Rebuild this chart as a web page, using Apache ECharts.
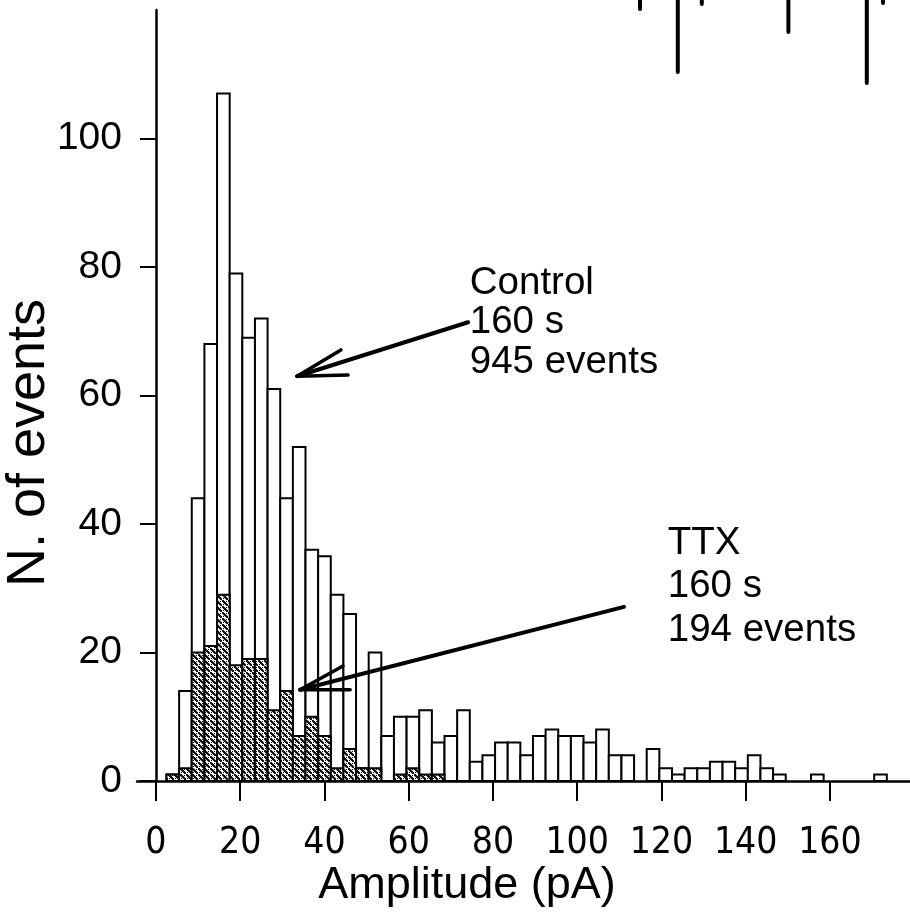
<!DOCTYPE html>
<html>
<head>
<meta charset="utf-8">
<script src="https://cdn.jsdelivr.net/npm/echarts@6/dist/echarts.min.js"></script>
<style>
  html, body { margin: 0; padding: 0; background: #fff; }
  #chart { width: 910px; height: 919px; }
</style>
</head>
<body>
<div id="chart"></div>
<script>
// Amplitude histogram of miniature events: bins are 3 pA wide, centred at these amplitudes (pA)
const binCenters = [4, 7, 10, 13, 16, 19, 22, 25, 28, 31, 34, 37, 40, 43, 46, 49, 52, 55, 58, 61,
  64, 67, 70, 73, 76, 79, 82, 85, 88, 91, 94, 97, 100, 103, 106, 109, 112, 115, 118, 121,
  124, 127, 130, 133, 136, 139, 142, 145, 148, 151, 154, 157, 160, 163, 166, 169, 172];

// Control recording, 160 s
const controlCounts = [1, 14, 44, 68, 107, 79, 69, 72, 61, 44, 52, 36, 35, 29, 26, 2, 20, 7, 10, 10,
  11, 6, 7, 11, 3, 4, 6, 6, 4, 7, 8, 7, 7, 6, 8, 4, 4, 0, 5, 2,
  1, 2, 2, 3, 3, 2, 4, 2, 1, 0, 0, 1, 0, 0, 0, 0, 1];

// In TTX, 160 s
const ttxCounts = [1, 2, 20, 21, 29, 18, 19, 19, 11, 14, 7, 10, 7, 2, 5, 2, 2, 0, 1, 2,
  1, 1, 0, 0, 0, 0, 0, 0, 0, 0, 0, 0, 0, 0, 0, 0, 0, 0, 0, 0,
  0, 0, 0, 0, 0, 0, 0, 0, 0, 0, 0, 0, 0, 0, 0, 0, 0];

const xTicks = [0, 20, 40, 60, 80, 100, 120, 140, 160];
const yTicks = [0, 20, 40, 60, 80, 100];

// Fragment of the current trace above the histogram: time (ms), peak (pA)
const traceTimes = [20, 38.9, 50.9, 94.2, 133.4, 141.5];
const tracePeaks = [-4.5, -36, -2, -16, -41.5, -1.5];

const BIN_WIDTH = 3;
const FONT = '"Liberation Sans", Arial, Helvetica, sans-serif';
const NARROW = '"Liberation Sans Narrow", "DejaVu Sans Condensed", "Liberation Sans", sans-serif';

// dense dotted diagonal hatch used for the TTX bars
function makeHatch() {
  const s = 6;
  const c = document.createElement('canvas');
  c.width = s; c.height = s;
  const g = c.getContext('2d');
  g.fillStyle = '#fff';
  g.fillRect(0, 0, s, s);
  g.strokeStyle = '#000';
  g.lineWidth = 2;
  g.beginPath();
  g.moveTo(-1, -1); g.lineTo(s + 1, s + 1);
  g.moveTo(-4, s - 2); g.lineTo(2, s + 4);
  g.moveTo(s - 2, -4); g.lineTo(s + 4, 2);
  g.stroke();
  g.fillStyle = '#000';
  g.fillRect(4, 1, 1, 1);
  g.fillRect(1, 4, 1, 1);
  return c;
}
const hatch = { image: makeHatch(), repeat: 'repeat' };

function histRect(fill) {
  return function (params, api) {
    const v = api.value(1);
    if (!v) return null;
    const c = api.value(0);
    const a = api.coord([c - BIN_WIDTH / 2, 0]);
    const b = api.coord([c + BIN_WIDTH / 2, v]);
    return {
      type: 'rect',
      shape: { x: a[0], y: b[1], width: b[0] - a[0], height: a[1] - b[1] },
      style: { fill: fill, stroke: '#000', lineWidth: 2 }
    };
  };
}

const chart = echarts.init(document.getElementById('chart'), null, { renderer: 'canvas' });

chart.setOption({
  backgroundColor: '#fff',
  animation: false,
  grid: [
    { left: 137, right: 0, top: 10, bottom: 138, containLabel: false, outerBoundsMode: 'none' },
    { left: 600, top: 0, width: 310, height: 100, containLabel: false, outerBoundsMode: 'none' }
  ],
  xAxis: [
    {
      type: 'value', gridIndex: 0, min: -4.5, max: 179,
      splitLine: { show: false },
      axisLine: { onZero: false, lineStyle: { color: '#000', width: 2.5 } },
      axisTick: { show: true, length: 20, customValues: xTicks, lineStyle: { color: '#000', width: 2 } },
      axisLabel: { customValues: xTicks, margin: 44, color: '#000', fontSize: 37, fontFamily: NARROW }
    },
    { type: 'value', gridIndex: 1, min: 0, max: 155, show: false }
  ],
  yAxis: [
    {
      type: 'value', gridIndex: 0, min: 0, max: 120,
      splitLine: { show: false },
      axisLine: { onZero: true, lineStyle: { color: '#000', width: 2.5 } },
      axisTick: { show: true, length: 16, customValues: yTicks, lineStyle: { color: '#000', width: 2 } },
      axisLabel: { customValues: yTicks, margin: 15, color: '#000', fontSize: 39, fontFamily: FONT }
    },
    { type: 'value', gridIndex: 1, min: -50, max: 0, show: false }
  ],
  series: [
    {
      name: 'Control', type: 'custom', xAxisIndex: 0, yAxisIndex: 0,
      renderItem: histRect('#fff'),
      data: binCenters.map((c, i) => [c, controlCounts[i]]),
      z: 2
    },
    {
      name: 'TTX', type: 'custom', xAxisIndex: 0, yAxisIndex: 0,
      renderItem: histRect(hatch),
      data: binCenters.map((c, i) => [c, ttxCounts[i]]),
      z: 3
    },
    {
      name: 'trace', type: 'custom', xAxisIndex: 1, yAxisIndex: 1,
      renderItem: function (params, api) {
        const t = api.value(0);
        const top = api.coord([t, 0]);
        const bottom = api.coord([t, api.value(1)]);
        return {
          type: 'line',
          shape: { x1: top[0], y1: top[1], x2: bottom[0], y2: bottom[1] },
          style: { stroke: '#000', lineWidth: 4, lineCap: 'round' }
        };
      },
      data: traceTimes.map((t, i) => [t, tracePeaks[i]])
    }
  ]
});

// Annotations, anchored in histogram units (pA, events)
const controlArrow = { tail: [74.1, 71.4], tip: [33.5, 63.0], barbs: [[43.9, 67.1], [45.6, 63.2]] };
const ttxArrow = { tail: [111.1, 27.1], tip: [34.2, 14.2], barbs: [[44.4, 17.9], [46.1, 14.2]] };
const controlNote = { at: [74.5, 80.6], text: 'Control\n160 s\n945 events', lineHeight: 39.5 };
const ttxNote = { at: [121.5, 40.4], text: 'TTX\n160 s\n194 events', lineHeight: 43.5 };

const toPx = p => chart.convertToPixel({ gridIndex: 0 }, p);

function arrowShapes(a) {
  const tip = toPx(a.tip);
  const out = [];
  const seg = (p, w) => {
    const q = toPx(p);
    out.push({
      type: 'line',
      shape: { x1: q[0], y1: q[1], x2: tip[0], y2: tip[1] },
      style: { stroke: '#000', lineWidth: w, lineCap: 'round' },
      z: 10
    });
  };
  seg(a.tail, 4);
  a.barbs.forEach(b => seg(b, 3.5));
  return out;
}

function note(n) {
  const p = toPx(n.at);
  return {
    type: 'text', x: p[0], y: p[1], z: 10,
    style: {
      text: n.text, fill: '#000', font: '38.5px ' + FONT,
      lineHeight: n.lineHeight, textAlign: 'left', textVerticalAlign: 'top'
    }
  };
}

chart.setOption({
  graphic: [
    ...arrowShapes(controlArrow),
    ...arrowShapes(ttxArrow),
    note(controlNote),
    note(ttxNote),
    {
      type: 'text', x: 467, y: 886,
      style: { text: 'Amplitude (pA)', fill: '#000', font: '45px ' + FONT, textAlign: 'center', textVerticalAlign: 'middle' }
    },
    {
      type: 'text', x: 29, y: 443, rotation: Math.PI / 2,
      style: { text: 'N. of events', fill: '#000', font: '54px ' + FONT, textAlign: 'center', textVerticalAlign: 'middle' }
    }
  ]
});
</script>
</body>
</html>
